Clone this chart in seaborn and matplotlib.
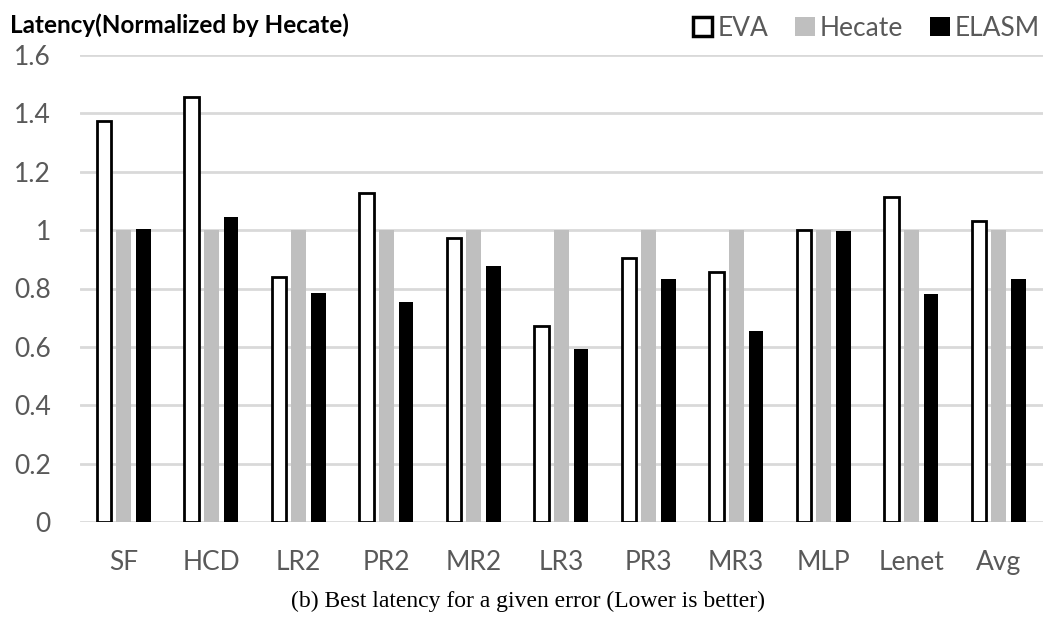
import matplotlib
matplotlib.use("Agg")
import matplotlib.pyplot as plt
import seaborn as sns
import pandas as pd

# Benchmarks and latency normalized to Hecate
benchmarks = ["SF", "HCD", "LR2", "PR2", "MR2", "LR3", "PR3", "MR3", "MLP", "Lenet", "Avg"]
eva = [1.374, 1.456, 0.839, 1.127, 0.972, 0.673, 0.903, 0.856, 1.000, 1.114, 1.031]
hecate = [1.0] * 11
elasm = [1.003, 1.044, 0.783, 0.754, 0.878, 0.594, 0.831, 0.654, 0.997, 0.781, 0.833]
systems = ["EVA", "Hecate", "ELASM"]
y_ticks = [0, 0.2, 0.4, 0.6, 0.8, 1, 1.2, 1.4, 1.6]

df = pd.DataFrame({
    "benchmark": benchmarks * 3,
    "system": ["EVA"] * 11 + ["Hecate"] * 11 + ["ELASM"] * 11,
    "latency": eva + hecate + elasm,
})

sns.set_theme(style="white")
plt.rcParams["font.family"] = ["Lato", "DejaVu Sans"]

W, H = 1047, 619
fig = plt.figure(figsize=(W / 100, H / 100), dpi=100)
ax = fig.add_axes([80 / W, 1 - 522 / H, 962.5 / W, 467 / H])

palette = {"EVA": "white", "Hecate": "#bfbfbf", "ELASM": "black"}
sns.barplot(data=df, x="benchmark", y="latency", hue="system", hue_order=systems,
            order=benchmarks, palette=palette, width=0.675, gap=0.25,
            saturation=1, linewidth=0, errorbar=None, ax=ax, zorder=3)

# Outline the EVA bars
for bar in ax.containers[0]:
    bar.set_edgecolor("black")
    bar.set_linewidth(2.0)

ax.set_xlim(-0.5, len(benchmarks) - 0.5)
ax.set_ylim(0, 1.6)
ax.set_yticks(y_ticks)
ax.set_yticklabels(["0", "0.2", "0.4", "0.6", "0.8", "1", "1.2", "1.4", "1.6"])
ax.grid(axis="y", color="#d9d9d9", linewidth=2.0, zorder=0)
ax.grid(axis="x", visible=False)
for s in ax.spines.values():
    s.set_visible(False)
ax.set_xlabel("")
ax.set_ylabel("")
ax.tick_params(axis="y", length=0, pad=21, labelsize=19, labelcolor="#595959")
ax.tick_params(axis="x", length=0, pad=20, labelsize=19, labelcolor="#595959")

if ax.get_legend() is not None:
    ax.get_legend().remove()
handles = [ax.containers[i].patches[0] for i in range(3)]
leg = fig.legend(handles, systems, loc="upper right", bbox_to_anchor=(1040 / W, 1 - 16 / H),
                 ncol=3, frameon=False, fontsize=19, handlelength=0.75, handleheight=0.75,
                 handletextpad=0.2, columnspacing=1.0, borderaxespad=0, borderpad=0)
for t in leg.get_texts():
    t.set_color("#595959")
leg.legend_handles[0].set_linewidth(2.5)

fig.text(10 / W, 1 - 13 / H, "Latency(Normalized by Hecate)", ha="left", va="top",
         fontsize=17.5, fontweight="bold", color="black")

fig.text(528 / W, 1 - 601 / H, "(b) Best latency for a given error (Lower is better)",
         ha="center", va="center", fontsize=17, family="Liberation Serif", color="black")

fig.savefig("out.png", dpi=100)
